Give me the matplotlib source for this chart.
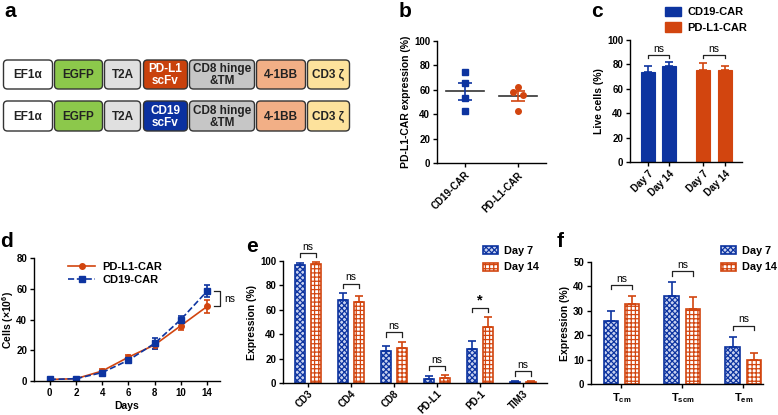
import matplotlib
matplotlib.use("Agg")
import matplotlib.pyplot as plt
from matplotlib.patches import FancyBboxPatch, Patch
from matplotlib.lines import Line2D
import numpy as np

plt.rcParams['font.family'] = ['Liberation Sans', 'DejaVu Sans']
plt.rcParams['font.weight'] = 'bold'
plt.rcParams['axes.labelweight'] = 'bold'
plt.rcParams['axes.linewidth'] = 1.0
plt.rcParams['xtick.major.width'] = 1.0
plt.rcParams['ytick.major.width'] = 1.0
plt.rcParams['xtick.major.size'] = 3
plt.rcParams['ytick.major.size'] = 3
plt.rcParams['xtick.major.pad'] = 2
plt.rcParams['ytick.major.pad'] = 2
plt.rcParams['xtick.labelsize'] = 7
plt.rcParams['ytick.labelsize'] = 7
plt.rcParams['hatch.linewidth'] = 0.9

BLUE = '#0d34a0'
ORANGE = '#d2450f'

# ---- data ----
# a: construct
construct_top = ['EF1α', 'EGFP', 'T2A', 'PD-L1\nscFv', 'CD8 hinge\n&TM', '4-1BB', 'CD3 ζ']
construct_bot = ['EF1α', 'EGFP', 'T2A', 'CD19\nscFv', 'CD8 hinge\n&TM', '4-1BB', 'CD3 ζ']
colors_top = ['#ffffff', '#8cc84b', '#e0e0e0', '#c9410c', '#c6c6c6', '#f2af86', '#fde29c']
colors_bot = ['#ffffff', '#8cc84b', '#e0e0e0', '#0b31a0', '#c6c6c6', '#f2af86', '#fde29c']

# b: CAR expression (%)
b_groups = ['CD19-CAR', 'PD-L1-CAR']
b_cd19 = [74.5, 65.5, 53, 42.5]
b_pdl1 = [62.5, 58.5, 56, 42.5]

# c: live cells (%)
c_labels = ['Day 7', 'Day 14', 'Day 7', 'Day 14']
c_cd19 = [73.5, 78.5]
c_cd19_err = [5.5, 3.5]
c_pdl1 = [75.5, 75.8]
c_pdl1_err = [6.0, 2.5]

# d: expansion
d_days = ['0', '2', '4', '6', '8', '10', '14']
d_pdl1 = [1.0, 1.5, 6.5, 15.5, 23.5, 36.0, 48.5]
d_pdl1_err = [0.5, 0.5, 1.0, 1.5, 2.5, 3.0, 4.5]
d_cd19 = [1.0, 1.5, 5.5, 13.5, 24.5, 40.0, 58.5]
d_cd19_err = [0.5, 0.5, 1.0, 1.5, 3.5, 2.5, 4.0]

# e: marker expression (%)
e_markers = ['CD3', 'CD4', 'CD8', 'PD-L1', 'PD-1', 'TIM3']
e_day7 = [96.5, 68, 26, 3.5, 28.2, 1.0]
e_day7_err = [1.5, 6, 4.2, 2.0, 6.6, 1.0]
e_day14 = [97.5, 66.3, 28.8, 4.0, 46.3, 1.0]
e_day14_err = [1.5, 4.7, 5.2, 2.5, 7.7, 1.0]
e_sig = ['ns', 'ns', 'ns', 'ns', '*', 'ns']

# f: memory subsets (%)
f_subsets = ['T$_{\\mathregular{cm}}$', 'T$_{\\mathregular{scm}}$', 'T$_{\\mathregular{em}}$']
f_day7 = [25.8, 36.1, 15.1]
f_day7_err = [4.2, 5.6, 4.3]
f_day14 = [32.6, 30.7, 9.9]
f_day14_err = [3.5, 5.0, 2.7]
f_sig = ['ns', 'ns', 'ns']

fig = plt.figure(figsize=(7.78, 4.15), dpi=100)
W, H = 778, 415


def add_ax(x0, y0, x1, y1):
    return fig.add_axes([x0 / W, 1 - y1 / H, (x1 - x0) / W, (y1 - y0) / H])


def style(ax):
    ax.spines['top'].set_visible(False)
    ax.spines['right'].set_visible(False)
    for t in ax.get_xticklabels() + ax.get_yticklabels():
        t.set_fontweight('bold')


def bracket(ax, x1, x2, y, h, text, fs=7.5):
    ax.plot([x1, x1, x2, x2], [y - h, y, y, y - h], color='#222222', lw=0.9, clip_on=False)
    if text == 'ns':
        ax.text((x1 + x2) / 2, y + h * 0.3, text, ha='center', va='bottom', fontsize=fs,
                fontweight='normal', clip_on=False)
    else:
        ax.text((x1 + x2) / 2, y + h * 0.1, text, ha='center', va='bottom', fontsize=fs + 3,
                fontweight='bold', clip_on=False)


# panel letters
for lab, x, y in [('a', 4, 2), ('b', 399, 2), ('c', 591, 2), ('d', 0, 232), ('e', 246, 237), ('f', 557, 232)]:
    fig.text(x / W, 1 - y / H, lab, fontsize=15, fontweight='bold', va='top', ha='left')

# ---- a ----
ax_a = fig.add_axes([0, 0, 1, 1], zorder=-1)
ax_a.set_xlim(0, W)
ax_a.set_ylim(H, 0)
ax_a.axis('off')
box_x = [(3, 53), (54, 103), (104, 141), (143, 188), (189, 255), (256, 306), (307, 350)]
for (ytop, ybot), labels, cols in [((60, 89), construct_top, colors_top), ((101, 131), construct_bot, colors_bot)]:
    for (x0, x1), lab, col in zip(box_x, labels, cols):
        p = FancyBboxPatch((x0 + 0.5, ytop), x1 - x0 - 1, ybot - ytop,
                           boxstyle='round,pad=0,rounding_size=4',
                           fc=col, ec='#333333', lw=1.0)
        ax_a.add_patch(p)
        tc = 'white' if col in ('#c9410c', '#0b31a0') else '#222222'
        ax_a.text((x0 + x1) / 2, (ytop + ybot) / 2 + 0.5, lab, ha='center', va='center',
                  fontsize=8.5, fontweight='bold', color=tc, linespacing=1.0)

# ---- b ----
ax_b = add_ax(437, 41, 546, 163)
for i, (vals, col, mk) in enumerate([(b_cd19, BLUE, 's'), (b_pdl1, ORANGE, 'o')]):
    vals = np.array(vals)
    m = vals.mean()
    sem = vals.std(ddof=1) / np.sqrt(len(vals))
    jit = [0.0, 0.0, 0.0, 0.0] if i == 0 else [0.0, -0.09, 0.09, 0.0]
    ax_b.plot(i + np.array(jit), vals, mk, color=col, ms=4, zorder=3)
    ax_b.plot([i - 0.36, i + 0.36], [m, m], color='#333333', lw=1.2, zorder=2)
    ax_b.errorbar(i, m, yerr=sem, color=col, capsize=5, capthick=1.2, lw=1.2, zorder=2)
ax_b.set_xlim(-0.53, 1.53)
ax_b.set_ylim(0, 100)
ax_b.set_yticks([0, 20, 40, 60, 80, 100])
ax_b.set_xticks([0, 1])
ax_b.set_xticklabels(b_groups, rotation=45, ha='right', rotation_mode='anchor')
ax_b.set_ylabel('PD-L1-CAR expression (%)', fontsize=7.5, labelpad=2)
style(ax_b)

# ---- c ----
ax_c = add_ax(630, 40, 742, 162)
cx = [0, 1, 2.64, 3.67]
vals = c_cd19 + c_pdl1
errs = c_cd19_err + c_pdl1_err
cols = [BLUE, BLUE, ORANGE, ORANGE]
ax_c.bar(cx, vals, width=0.67, color=cols, edgecolor=cols, lw=0.8)
for x, v, e, c in zip(cx, vals, errs, cols):
    ax_c.errorbar(x, v, yerr=[[0], [e]], color=c, capsize=3, capthick=1.2, lw=1.2)
bracket(ax_c, cx[0], cx[1], 88, 3, 'ns')
bracket(ax_c, cx[2], cx[3], 88, 3, 'ns')
ax_c.set_xlim(-0.86, 4.48)
ax_c.set_ylim(0, 100)
ax_c.set_yticks([0, 20, 40, 60, 80, 100])
ax_c.set_xticks(cx)
ax_c.set_xticklabels(c_labels, rotation=45, ha='right', rotation_mode='anchor')
ax_c.set_ylabel('Live cells (%)', fontsize=7.5, labelpad=2)
style(ax_c)
fig.legend(handles=[Patch(fc=BLUE, ec=BLUE), Patch(fc=ORANGE, ec=ORANGE)],
           labels=['CD19-CAR', 'PD-L1-CAR'], loc='upper left',
           bbox_to_anchor=(665 / W, 1 - 7 / H), frameon=False, fontsize=8,
           handlelength=1.4, handleheight=0.9, handletextpad=0.6, labelspacing=0.45,
           borderaxespad=0, borderpad=0)

# ---- d ----
ax_d = add_ax(34, 258, 220, 381)
dx = np.arange(len(d_days))
ax_d.errorbar(dx, d_pdl1, yerr=d_pdl1_err, color=ORANGE, marker='o', ms=4, lw=1.2,
              capsize=2.5, capthick=1.2)
ax_d.errorbar(dx, d_cd19, yerr=d_cd19_err, color=BLUE, marker='s', ms=4, lw=1.2, ls='--',
              capsize=2.5, capthick=1.2)
ax_d.plot([6.25, 6.5, 6.5, 6.25], [d_cd19[-1], d_cd19[-1], d_pdl1[-1], d_pdl1[-1]],
          color='#222222', lw=0.9, clip_on=False)
ax_d.text(6.65, (d_cd19[-1] + d_pdl1[-1]) / 2, 'ns', fontsize=7.5, va='center', ha='left',
          fontweight='normal', clip_on=False)
ax_d.set_xlim(-0.6, 6.49)
ax_d.set_ylim(0, 80)
ax_d.set_yticks([0, 20, 40, 60, 80])
ax_d.set_xticks(dx)
ax_d.set_xticklabels(d_days)
ax_d.set_xlabel('Days', fontsize=7.5, labelpad=2)
ax_d.set_ylabel('Cells (×10$^{\\mathregular{6}}$)', fontsize=7.5, labelpad=0)
d_handles = [Line2D([], [], color=ORANGE, marker='o', ms=4, lw=1.2),
             Line2D([], [], color=BLUE, marker='s', ms=4, lw=1.2, ls='--')]
ax_d.legend(d_handles, ['PD-L1-CAR', 'CD19-CAR'], loc='upper left', bbox_to_anchor=(0.13, 1.05),
            frameon=False, fontsize=8, handlelength=2.4, labelspacing=0.3, handletextpad=0.7)
style(ax_d)

V7_FACE = '#c9d2f0'
H7 = 'xxxxxx'
H14 = '++++'


def hatched_bars(ax, x, v7, e7, v14, e14, off, w):
    ax.bar(x - off, v7, width=w, color=V7_FACE, edgecolor=BLUE, hatch=H7, lw=1.2)
    ax.bar(x + off, v14, width=w, color='white', edgecolor=ORANGE, hatch=H14, lw=1.2)
    ax.errorbar(x - off, v7, yerr=[np.zeros(len(x)), e7], fmt='none', ecolor=BLUE,
                capsize=3, capthick=1.2, lw=1.2)
    ax.errorbar(x + off, v14, yerr=[np.zeros(len(x)), e14], fmt='none', ecolor=ORANGE,
                capsize=3, capthick=1.2, lw=1.2)


def hatch_legend(ax, anchor_px):
    hs = [Patch(fc=V7_FACE, ec=BLUE, hatch=H7, lw=1.2),
          Patch(fc='white', ec=ORANGE, hatch=H14, lw=1.2)]
    fig.legend(hs, ['Day 7', 'Day 14'], loc='upper left',
               bbox_to_anchor=(anchor_px[0] / W, 1 - anchor_px[1] / H),
               frameon=False, fontsize=7.8, handlelength=1.4, handleheight=0.8,
               handletextpad=0.5, labelspacing=0.6, borderaxespad=0, borderpad=0)


# ---- e ----
ax_e = add_ax(283, 261, 547, 383)
ex = np.arange(len(e_markers))
hatched_bars(ax_e, ex, e_day7, e_day7_err, e_day14, e_day14_err, 0.19, 0.23)
for i, s in enumerate(e_sig):
    top = max(e_day7[i] + e_day7_err[i], e_day14[i] + e_day14_err[i])
    bracket(ax_e, i - 0.19, i + 0.19, top + 7.5, 3.5, s)
ax_e.set_xlim(-0.58, 5.56)
ax_e.set_ylim(0, 100)
ax_e.set_yticks([0, 20, 40, 60, 80, 100])
ax_e.set_xticks(ex)
ax_e.set_xticklabels(e_markers, rotation=45, ha='right', rotation_mode='anchor')
ax_e.tick_params(axis='x', pad=1)
ax_e.set_ylabel('Expression (%)', fontsize=7.5, labelpad=2)
hatch_legend(ax_e, (483, 246))
style(ax_e)

# ---- f ----
ax_f = add_ax(591, 262, 763, 384)
fxp = np.arange(len(f_subsets))
hatched_bars(ax_f, fxp, f_day7, f_day7_err, f_day14, f_day14_err, 0.18, 0.23)
for i, s in enumerate(f_sig):
    top = max(f_day7[i] + f_day7_err[i], f_day14[i] + f_day14_err[i])
    bracket(ax_f, i - 0.18, i + 0.18, top + 4.5, 1.8, s)
ax_f.set_xlim(-0.5, 2.32)
ax_f.set_ylim(0, 50)
ax_f.set_yticks([0, 10, 20, 30, 40, 50])
ax_f.set_xticks(fxp)
ax_f.set_xticklabels(f_subsets, fontsize=8)
ax_f.set_ylabel('Expression (%)', fontsize=7.5, labelpad=2)
hatch_legend(ax_f, (721, 246))
style(ax_f)

fig.savefig('out.png', dpi=100)
